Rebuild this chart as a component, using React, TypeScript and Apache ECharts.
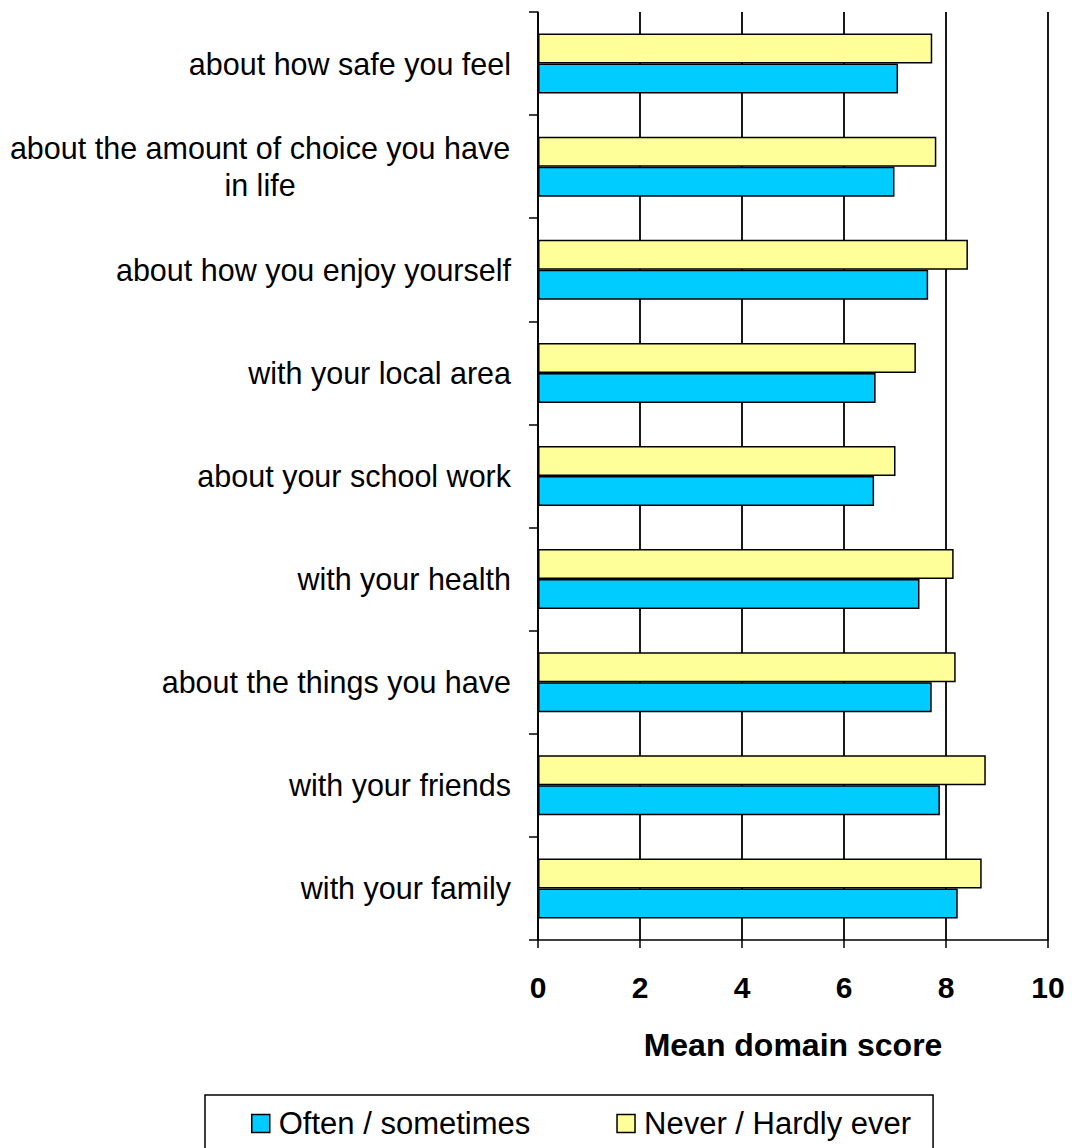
import React, { useEffect, useRef } from "react";
import * as echarts from "echarts";

// Categories listed top to bottom as they appear in the chart
const categories = [
  "about how safe you feel",
  "about the amount of choice you have in life",
  "about how you enjoy yourself",
  "with your local area",
  "about your school work",
  "with your health",
  "about the things you have",
  "with your friends",
  "with your family",
];

const oftenValues = [7.06, 6.99, 7.65, 6.62, 6.59, 7.48, 7.72, 7.88, 8.23];
const neverValues = [7.73, 7.81, 8.43, 7.41, 7.01, 8.15, 8.19, 8.78, 8.7];

const seriesNames = ["Often / sometimes", "Never / Hardly ever"];
const xTicks = [0, 2, 4, 6, 8, 10];

const FONT = "'Liberation Sans', Arial, Helvetica, sans-serif";

export default function App() {
  const ref = useRef<HTMLDivElement>(null);

  useEffect(() => {
    document.body.style.margin = "0";
    if (!ref.current) return;
    const chart = echarts.init(ref.current, undefined, { renderer: "svg" });

    // ECharts draws category[0] at the bottom of a vertical category axis
    const cats = [...categories].reverse();
    const often = [...oftenValues].reverse();
    const never = [...neverValues].reverse();

    const longLabel = "about the amount of choice you have in life";

    chart.setOption({
      animation: false,
      backgroundColor: "#ffffff",
      textStyle: { fontFamily: FONT },
      grid: { left: 538, right: 24, top: 12, bottom: 208, containLabel: false },
      xAxis: {
        type: "value",
        min: xTicks[0],
        max: xTicks[xTicks.length - 1],
        interval: 2,
        name: "Mean domain score",
        nameLocation: "middle",
        nameGap: 89,
        nameTextStyle: {
          fontFamily: FONT,
          fontSize: 32,
          fontWeight: "bold",
          color: "#000",
        },
        axisLine: { show: true, lineStyle: { color: "#000", width: 1.5 } },
        axisTick: { show: true, length: 8, lineStyle: { color: "#000", width: 1.5 } },
        axisLabel: {
          fontFamily: FONT,
          fontSize: 30,
          fontWeight: "bold",
          color: "#000",
          margin: 32,
        },
        splitLine: { show: true, lineStyle: { color: "#000", width: 1.8 } },
      },
      yAxis: {
        type: "category",
        data: cats,
        axisLine: { show: true, lineStyle: { color: "#000", width: 1.5 } },
        axisTick: { show: true, length: 9, lineStyle: { color: "#000", width: 1.5 } },
        axisLabel: {
          fontFamily: FONT,
          fontSize: 30.5,
          color: "#000",
          margin: 27,
          formatter: (v: string) => {
            if (v === longLabel) {
              return "{c|about the amount of choice you have}\n{c|in life}";
            }
            return v;
          },
          rich: {
            c: {
              fontFamily: FONT,
              fontSize: 30.5,
              color: "#000",
              width: 502,
              align: "center",
              lineHeight: 37,
            },
          },
        },
        splitLine: { show: false },
      },
      legend: {
        show: true,
        data: seriesNames,
        left: 205,
        top: 1095,
        orient: "horizontal",
        selectedMode: false,
        borderColor: "#000",
        borderWidth: 1.5,
        padding: [13, 22, 40, 46],
        itemGap: 86,
        itemWidth: 18,
        itemHeight: 18,
        icon: "rect",
        itemStyle: { borderColor: "#000", borderWidth: 1.5 },
        textStyle: {
          fontFamily: FONT,
          fontSize: 31,
          color: "#000",
          padding: [0, 0, 0, 4],
        },
      },
      series: [
        {
          name: seriesNames[1],
          type: "bar",
          data: never,
          barWidth: 30,
          barGap: "0%",
          itemStyle: { color: "#FFFF99", borderColor: "#000", borderWidth: 1.5 },
        },
        {
          name: seriesNames[0],
          type: "bar",
          data: often,
          barWidth: 30,
          barGap: "0%",
          itemStyle: { color: "#00CCFF", borderColor: "#000", borderWidth: 1.5 },
        },
      ],
    });

    return () => chart.dispose();
  }, []);

  return <div ref={ref} style={{ width: 1072, height: 1148 }} />;
}
